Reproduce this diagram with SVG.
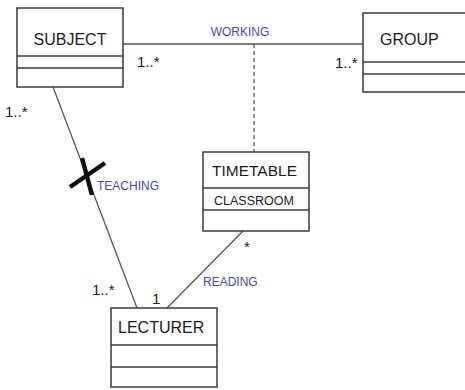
<svg xmlns="http://www.w3.org/2000/svg" width="465" height="390" viewBox="0 0 465 390">
<style>
.box{fill:#fff;stroke:#3a3a3a;stroke-width:1.5}
.div{stroke:#3a3a3a;stroke-width:1.5}
.name{font-family:"Liberation Sans",Arial,sans-serif;font-size:16px;fill:#1a1a1a}
.attr{font-family:"Liberation Sans",Arial,sans-serif;font-size:12.5px;fill:#1a1a1a}
.mult{font-family:"Liberation Sans",Arial,sans-serif;font-size:15px;fill:#1a1a1a}
.lbl{font-family:"Liberation Sans",Arial,sans-serif;font-size:12px;fill:#4a4a9e}
.line{stroke:#555;stroke-width:1.3;fill:none}
</style>
<rect width="465" height="390" fill="#fff"/>
<g id="connectors">
<line class="line" x1="123" y1="44" x2="363" y2="44"/>
<line class="line" x1="254" y1="44" x2="254" y2="152" stroke-dasharray="4,3"/>
<line class="line" x1="53" y1="87" x2="137" y2="308"/>
<line class="line" x1="243" y1="231" x2="167" y2="308"/>
<g stroke="#111" stroke-width="4.5" stroke-linecap="butt">
<line x1="70" y1="187" x2="105" y2="163"/>
<line x1="82" y1="158" x2="92" y2="195"/>
</g>
<text class="lbl" x="240" y="36" text-anchor="middle">WORKING</text>
<text class="lbl" x="97" y="190">TEACHING</text>
<text class="lbl" x="203" y="286">READING</text>
<text class="mult" x="137" y="67">1..*</text>
<text class="mult" x="335" y="68">1..*</text>
<text class="mult" x="5" y="117">1..*</text>
<text class="mult" x="92" y="295">1..*</text>
<text class="mult" x="152" y="304">1</text>
<text class="mult" x="244" y="252">*</text>
</g>
<g id="subject">
<rect class="box" x="17" y="8" width="106" height="79"/>
<line class="div" x1="17" y1="56" x2="123" y2="56"/>
<line class="div" x1="17" y1="68" x2="123" y2="68"/>
<text class="name" x="70" y="45" text-anchor="middle">SUBJECT</text>
</g>
<g id="group">
<rect class="box" x="363" y="13" width="106" height="79"/>
<line class="div" x1="363" y1="62" x2="469" y2="62"/>
<line class="div" x1="363" y1="74" x2="469" y2="74"/>
<text class="name" x="380" y="45">GROUP</text>
</g>
<g id="timetable">
<rect class="box" x="203" y="152" width="106" height="79"/>
<line class="div" x1="203" y1="188" x2="309" y2="188"/>
<line class="div" x1="203" y1="210" x2="309" y2="210"/>
<text class="name" x="212" y="176" style="font-size:15.5px">TIMETABLE</text>
<text class="attr" x="214" y="205">CLASSROOM</text>
</g>
<g id="lecturer">
<rect class="box" x="111" y="308" width="106" height="79"/>
<line class="div" x1="111" y1="345" x2="217" y2="345"/>
<line class="div" x1="111" y1="367" x2="217" y2="367"/>
<text class="name" x="118" y="333">LECTURER</text>
</g>
</svg>
